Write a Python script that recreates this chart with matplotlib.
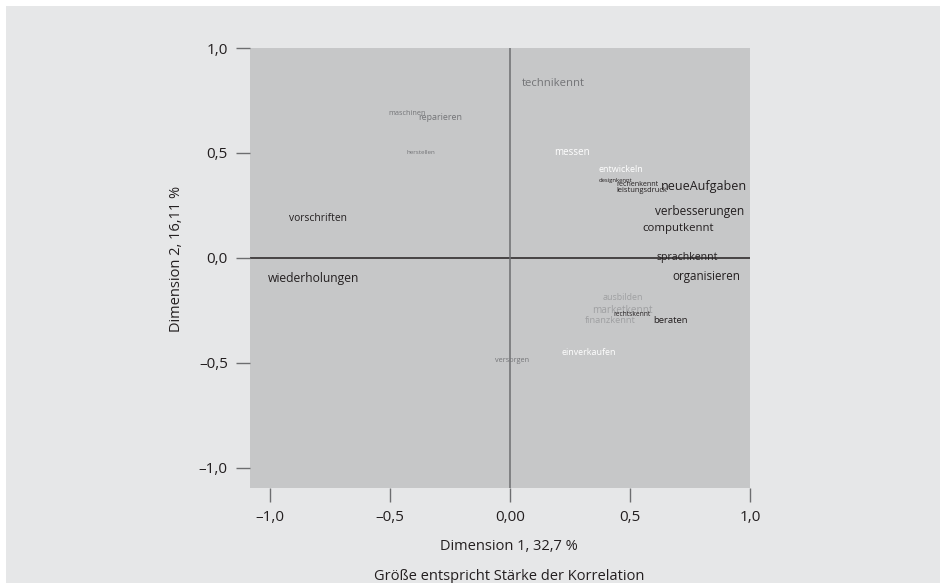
import matplotlib
matplotlib.use("Agg")
import matplotlib.pyplot as plt
from matplotlib.patches import Rectangle

plt.rcParams['font.family'] = ['Open Sans', 'DejaVu Sans']

# words of the correspondence map: coordinates, size (= strength), colour group
words = ["technikennt", "maschinen", "reparieren", "herstellen", "messen",
         "entwickeln", "designkennt", "rechenkennt", "leistungsdruck",
         "neueAufgaben", "verbesserungen", "computkennt", "vorschriften",
         "sprachkennt", "wiederholungen", "organisieren", "ausbilden",
         "marketkennt", "rechtskennt", "finanzkennt", "beraten", "versorgen",
         "einverkaufen"]
dim1 = [0.18, -0.43, -0.29, -0.37, 0.26,
        0.46, 0.44, 0.53, 0.55,
        0.81, 0.79, 0.70, -0.80,
        0.74, -0.82, 0.82, 0.47,
        0.47, 0.51, 0.42, 0.67, 0.01,
        0.33]
dim2 = [0.83, 0.69, 0.67, 0.50, 0.50,
        0.42, 0.37, 0.35, 0.32,
        0.34, 0.22, 0.14, 0.19,
        0.00, -0.10, -0.09, -0.19,
        -0.25, -0.27, -0.30, -0.30, -0.49,
        -0.45]
sizes = [8.1, 5.2, 6.4, 4.5, 7.0,
         6.5, 4.2, 5.1, 5.4,
         9.0, 8.6, 8.2, 7.4,
         7.6, 8.7, 8.4, 6.4,
         7.2, 4.8, 6.7, 6.8, 5.2,
         6.4]
groups = ["mid", "mid", "mid", "mid", "white",
          "white", "dark", "dark", "dark",
          "dark", "dark", "dark", "dark",
          "dark", "dark", "dark", "light",
          "light", "dark", "light", "dark", "mid",
          "white"]
group_colors = {"dark": "#231f20", "mid": "#737477", "light": "#9fa0a2",
                "white": "#ffffff"}

xticks = [-1.0, -0.5, 0.0, 0.5, 1.0]
xticklabels = ["\u20131,0", "\u20130,5", "0,00", "0,5", "1,0"]
yticks = [-1.0, -0.5, 0.0, 0.5, 1.0]
yticklabels = ["\u20131,0", "\u20130,5", "0,0", "0,5", "1,0"]

W, H = 940, 583
fig = plt.figure(figsize=(W / 100, H / 100), dpi=100, facecolor="white")
fig.patches.append(Rectangle((6 / W, 0), 1, 1 - 6 / H, transform=fig.transFigure,
                             facecolor="#e6e7e8", edgecolor="none", zorder=-10))

ax = fig.add_axes([250 / W, 1 - 487.5 / H, 500 / W, 439.5 / H])
ax.set_facecolor("#c6c7c8")
ax.set_xlim(-1.083, 1.0)
ax.set_ylim(-1.093, 1.0)
for s in ax.spines.values():
    s.set_visible(False)

ax.axhline(0, color="#231f20", lw=1.1, zorder=1)
ax.axvline(0, color="#6d6e70", lw=1.1, zorder=1)

ax.set_xticks(xticks)
ax.set_xticklabels(xticklabels)
ax.set_yticks(yticks)
ax.set_yticklabels(yticklabels)
ax.tick_params(direction="out", length=10, width=1, color="#6d6e70",
               labelcolor="#231f20", labelsize=11, pad=6)
for t in ax.get_xticklabels() + ax.get_yticklabels():
    t.set_clip_on(False)

for w, x, y, s, g in zip(words, dim1, dim2, sizes, groups):
    ax.text(x, y, w, fontsize=s, color=group_colors[g], ha="center",
            va="center", zorder=3)

fig.text(176 / W, 1 - 259 / H, "Dimension 2, 16,11 %", rotation=90,
         ha="center", va="center", fontsize=10.5, color="#231f20")
fig.text(509 / W, 1 - 547 / H, "Dimension 1, 32,7 %", ha="center",
         va="center", fontsize=10.5, color="#231f20")
fig.text(509 / W, 1 - 576 / H, "Gr\u00f6\u00dfe entspricht St\u00e4rke der Korrelation",
         ha="center", va="center", fontsize=10.5, color="#231f20")

fig.savefig("out.png", dpi=100, facecolor=fig.get_facecolor())
